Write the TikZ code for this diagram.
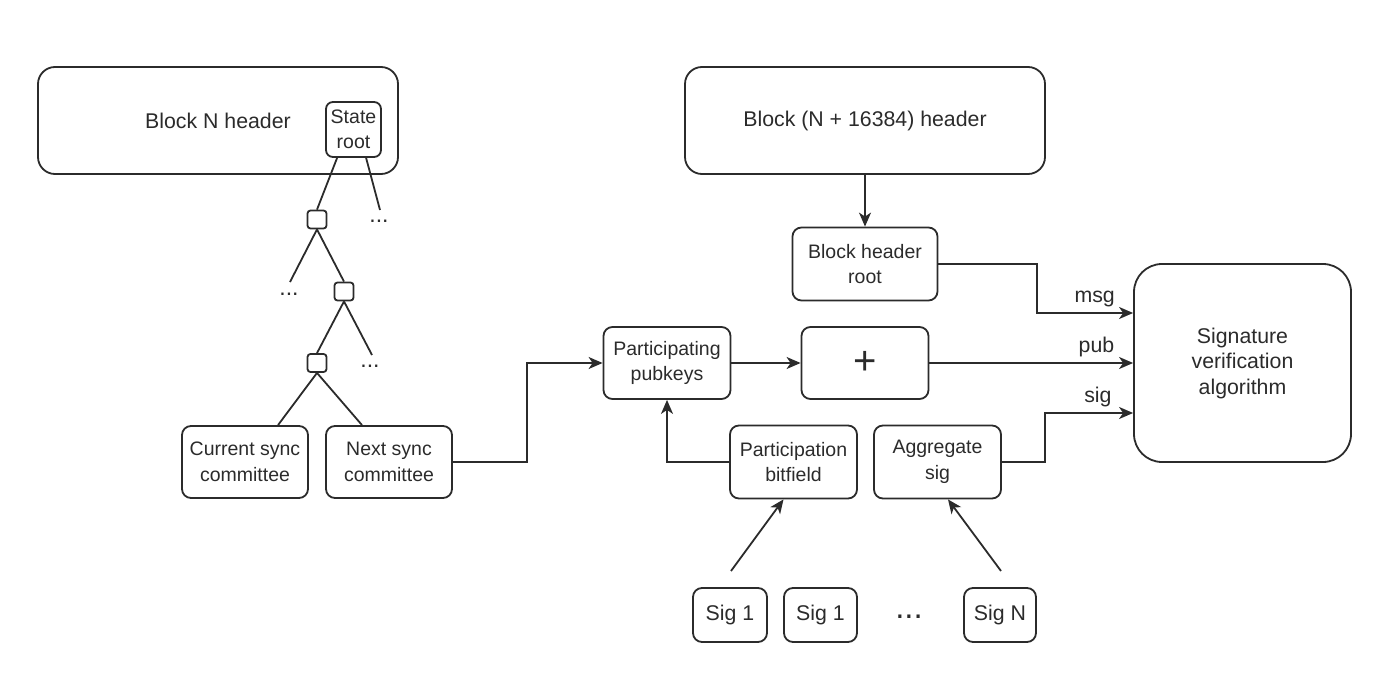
\documentclass[tikz,border=0pt]{standalone}
\usepackage{fontspec}
\setmainfont{Liberation Sans}
\usetikzlibrary{arrows.meta,calc}
\definecolor{ink}{HTML}{2B2B2B}
\begin{document}
\begin{tikzpicture}[x=1pt,y=-1pt,
  every node/.style={text=ink,font=\fontsize{19.5}{25.5}\selectfont,align=center,inner sep=0pt},
  big/.style={font=\fontsize{21.3}{25.5}\selectfont},
  box/.style={draw=ink,line width=1.8pt,rounded corners=9pt},
  bigbox/.style={draw=ink,line width=1.8pt,rounded corners=17pt},
  sqbox/.style={draw=ink,line width=1.8pt,rounded corners=3pt,minimum width=19pt,minimum height=18pt},
  ln/.style={draw=ink,line width=1.8pt},
  arr/.style={draw=ink,line width=1.8pt,-{Stealth[length=14pt,width=12pt,inset=4pt]}},
  dots/.style={font=\fontsize{23}{24}\selectfont},
]
\useasboundingbox (0,0) rectangle (1395,677);
% left part
\node[bigbox,minimum width=360pt,minimum height=107pt] (bn) at (218,120.5) {};
\node[big] (bnt) at (218,121) {Block N header};
\node[box,rounded corners=7pt,minimum width=55pt,minimum height=55pt] (sr) at (353.5,129.5) {State\\root};
\node[sqbox] (sq1) at (317,219.5) {};
\node[sqbox] (sq2) at (344,291.5) {};
\node[sqbox] (sq3) at (317,363) {};
\node[box,minimum width=126pt,minimum height=72pt] (cur) at (245,462) {Current sync\\committee};
\node[box,minimum width=126pt,minimum height=72pt] (nxt) at (389,462) {Next sync\\committee};
\coordinate (e1) at (380,210);
\coordinate (e2) at (290,282);
\coordinate (e3) at (372,355);
\node[dots] (d1) at (379,221) {...};
\node[dots] (d2) at (289,294) {...};
\node[dots] (d3) at (370,366) {...};
\draw[ln] ($(sr.south west)+(12,0)$) -- (sq1.north);
\draw[ln] ($(sr.south west)+(41,0)$) -- (e1);
\draw[ln] (sq1.south) -- (e2);
\draw[ln] (sq1.south) -- (sq2.north);
\draw[ln] (sq2.south) -- (sq3.north);
\draw[ln] (sq2.south) -- (e3);
\draw[ln] (sq3.south) -- ($(cur.north)+(33,0)$);
\draw[ln] (sq3.south) -- ($(nxt.north)+(-27,0)$);
% right part
\node[bigbox,big,minimum width=360pt,minimum height=107pt] (bh) at (865,120.5) {Block (N + 16384) header};
\node[box,minimum width=145pt,minimum height=73pt] (bhr) at (865,264) {Block header\\root};
\node[box,minimum width=127pt,minimum height=72pt] (pp) at (667,363) {Participating\\pubkeys};
\node[box,minimum width=127pt,minimum height=72pt,font=\fontsize{40}{42}\selectfont] (plus) at (865,363) {+};
\node[box,minimum width=127pt,minimum height=73pt] (pb) at (793.5,462) {Participation\\bitfield};
\node[box,minimum width=127pt,minimum height=73pt] (ag) at (937.5,462) {Aggregate\\sig};
\node[box,big,minimum width=74pt,minimum height=54pt] (s1) at (730,615) {Sig 1};
\node[box,big,minimum width=73pt,minimum height=54pt] (s2) at (820.5,615) {Sig 1};
\node[font=\fontsize{33}{34}\selectfont] (sd) at (909,617) {...};
\node[box,big,minimum width=72pt,minimum height=54pt] (sn) at (1000,615) {Sig N};
\node[draw=ink,big,line width=1.8pt,rounded corners=28pt,minimum width=217pt,minimum height=198pt] (sv) at (1242.5,363) {Signature\\verification\\algorithm};
\coordinate (f1) at (731,571);
\coordinate (f2) at (1001,571);
% connectors
\draw[arr] (bh.south) -- (bhr.north);
\draw[arr] (nxt.east) -- (527,462) -- (527,363) -- (pp.west);
\draw[arr] (pp.east) -- (plus.west);
\draw[arr] (pb.west) -- (pp.south |- pb.west) -- (pp.south);
\draw[arr] (f1) -- ($(pb.south)+(-10,0)$);
\draw[arr] (f2) -- ($(ag.south)+(10.5,0)$);
\draw[arr] (bhr.east) -- (1037,264) -- (1037,313) -- (sv.west |- 0,313) node[big,pos=0.6,above=5pt] (lm) {msg};
\draw[arr] (plus.east) -- (sv.west) node[big,pos=0.82,above=5pt] (lp) {pub};
\draw[arr] (ag.east) -- (1045,462) -- (1045,413) -- (sv.west |- 0,413) node[big,pos=0.6,above=5pt] (ls) {sig};
\end{tikzpicture}
\end{document}
